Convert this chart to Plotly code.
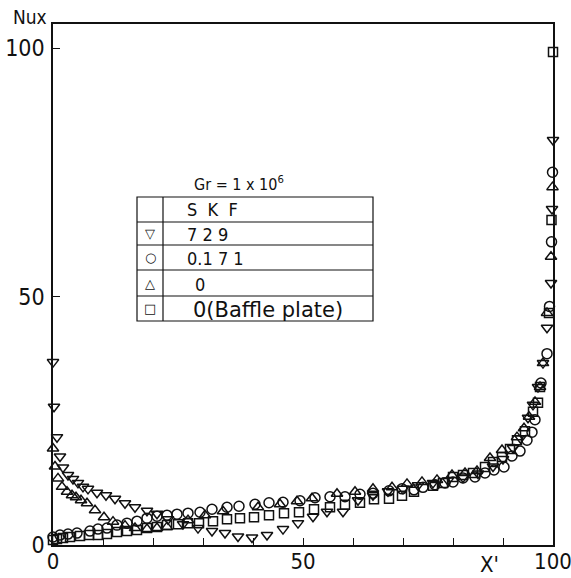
import plotly.graph_objects as go

# Local Nusselt number along the heated wall, Gr = 1e6
# S K F = 729
x_skf729 = [0.0, 0.2, 0.8, 1.4, 2.0, 3.0, 4.0, 5.0, 6.0, 7.0, 8.8, 10.6, 12.4, 14.4, 16.4,
            18.8, 20.8, 23.0, 26.0, 29.0, 31.8, 34.4, 37.0, 39.8, 42.8, 46.0, 49.0, 52.0,
            54.8, 58.0, 61.0, 64.0, 67.0, 70.0, 73.0, 76.0, 79.0, 82.0, 85.0, 88.0, 90.0,
            92.0, 93.5, 95.0, 96.0, 97.0, 98.0, 98.8, 99.6, 99.8, 100.0]
nu_skf729 = [36.8, 27.8, 21.7, 17.8, 15.6, 14.1, 13.3, 12.5, 11.7, 11.3, 10.5, 10.0, 9.3, 8.4, 7.6,
             6.9, 6.3, 5.2, 4.2, 3.4, 2.8, 2.4, 1.7, 1.5, 2.0, 3.2, 4.4, 5.7,
             6.7, 6.7, 9.0, 10.0, 10.8, 11.3, 12.0, 12.5, 13.0, 13.6, 14.4, 15.8, 17.3,
             19.5, 21.5, 25.6, 28.2, 31.8, 36.6, 43.7, 52.7, 67.6, 81.5]

# S K F = 0.171
x_skf0171 = [0.0, 1.4, 3.0, 4.8, 7.4, 9.0, 10.8, 12.8, 14.8, 16.8, 18.8, 20.8, 22.8, 24.8, 27.0,
             29.4, 31.8, 34.8, 37.2, 40.4, 43.2, 46.0, 49.4, 52.4, 55.4, 58.4, 61.4, 64.0,
             67.2, 69.8, 72.2, 74.0, 76.4, 78.4, 80.0, 82.0, 84.4, 86.4, 88.2, 90.2, 91.8,
             93.4, 94.8, 95.8, 96.4, 97.6, 98.8, 99.3, 99.7, 99.9]
nu_skf0171 = [1.6, 2.0, 2.2, 2.4, 2.8, 3.2, 3.4, 4.0, 4.4, 4.8, 5.4, 5.8, 6.0, 6.2, 6.4,
              6.6, 7.2, 7.6, 7.8, 8.2, 8.5, 8.6, 8.9, 9.5, 9.7, 9.7, 10.2, 10.4,
              10.9, 11.3, 11.1, 11.6, 12.1, 12.5, 12.7, 13.5, 13.7, 14.5, 15.1, 15.7, 17.9,
              18.9, 21.1, 22.7, 25.2, 32.6, 38.5, 48.0, 61.0, 75.0]

# S K F = 0
x_skf0 = [0.0, 0.4, 1.0, 1.8, 2.8, 3.8, 4.6, 5.6, 6.8, 8.4, 10.2, 12.0, 14.4, 16.4, 18.8,
          20.8, 22.8, 27.0, 30.4, 34.0, 41.0, 45.4, 48.8, 51.8, 56.8, 60.4, 64.0, 67.8,
          70.8, 73.8, 76.8, 79.8, 82.4, 84.8, 87.4, 89.8, 92.8, 94.2, 95.2, 96.4, 97.4,
          98.0, 98.8, 99.6, 99.9]
nu_skf0 = [19.4, 15.8, 13.4, 11.7, 10.7, 10.0, 9.6, 9.0, 8.4, 7.0, 5.6, 4.7, 3.9, 3.4, 3.2,
           3.4, 3.6, 5.0, 6.0, 6.8, 7.6, 8.2, 8.8, 9.4, 10.3, 10.7, 11.3, 11.6,
           12.3, 12.7, 13.1, 14.1, 14.5, 14.9, 17.5, 19.1, 21.7, 23.5, 25.8, 28.8, 31.8,
           36.6, 46.7, 58.0, 72.0]

# S K F = 0 with baffle plate
x_baffle = [0.0, 0.8, 2.0, 3.4, 5.4, 7.2, 9.0, 10.8, 12.8, 14.8, 16.8, 18.8, 20.8, 22.8, 25.0,
            27.0, 29.2, 32.0, 34.8, 37.4, 40.2, 43.2, 46.2, 49.2, 52.2, 55.4, 58.4, 61.4,
            64.2, 67.2, 69.8, 72.2, 76.0, 78.0, 80.0, 82.0, 84.0, 86.4, 88.0, 89.8, 91.4,
            92.8, 94.4, 96.0, 97.0, 97.4, 99.2, 99.7, 100.0]
nu_baffle = [1.0, 1.2, 1.4, 1.6, 1.8, 2.0, 2.0, 2.2, 2.6, 2.8, 3.0, 3.4, 3.6, 4.0, 4.2,
             4.4, 4.4, 4.8, 5.2, 5.4, 5.6, 6.0, 6.4, 6.6, 7.2, 7.6, 8.1, 8.5,
             9.2, 9.3, 9.9, 10.7, 11.9, 12.5, 13.7, 14.1, 14.5, 15.7, 16.7, 17.7, 19.3,
             21.1, 22.9, 26.8, 28.6, 31.8, 46.7, 65.4, 99.2]

x_ticks = [0, 10, 20, 30, 40, 50, 60, 70, 80, 90, 100]
x_tick_labels = ["0", "", "", "", "", "50", "", "", "", "", "100"]
y_ticks = [0, 50, 100]
y_tick_labels = ["0", "50", "100"]

legend_rows = [("\u25bd", "7 2 9"), ("\u25cb", "0.1 7 1"), ("\u25b3", "0"), ("\u25a1", "0(Baffle plate)")]

FONT = "Liberation Sans Narrow, DejaVu Sans Condensed, Arial, sans-serif"
WIDE = "DejaVu Sans, Arial, sans-serif"
INK = "#111111"

fig = go.Figure()
series = [
    (x_skf729, nu_skf729, "triangle-down-open", 10),
    (x_skf0171, nu_skf0171, "circle-open", 10),
    (x_skf0, nu_skf0, "triangle-up-open", 10),
    (x_baffle, nu_baffle, "square-open", 9),
]
for xs, ys, sym, sz in series:
    fig.add_trace(go.Scatter(
        x=xs, y=ys, mode="markers", cliponaxis=False, showlegend=False,
        marker=dict(symbol=sym, size=sz, color=INK, line=dict(width=1.5, color=INK)),
    ))

# helper: pixel position on the page -> data coordinates
def px_x(p):
    return (p - 53) / 5.0

def px_y(p):
    return (545 - p) / 4.97

# table used as the key
left, div, right = 137, 163, 373
rows = [197, 222, 245, 270, 296, 321]
line_style = dict(color=INK, width=1.2)
fig.add_shape(type="rect", x0=px_x(left), x1=px_x(right), y0=px_y(rows[0]), y1=px_y(rows[-1]),
              line=line_style, layer="above")
fig.add_shape(type="line", x0=px_x(div), x1=px_x(div), y0=px_y(rows[0]), y1=px_y(rows[-1]),
              line=line_style)
for r in rows[1:-1]:
    fig.add_shape(type="line", x0=px_x(left), x1=px_x(right), y0=px_y(r), y1=px_y(r), line=line_style)

fig.add_annotation(x=px_x(185), y=px_y(209), text="S  K  F", showarrow=False, xanchor="left",
                   yanchor="middle", font=dict(family=FONT, size=18, color=INK))
for i, (sym, label) in enumerate(legend_rows):
    yc = (rows[i + 1] + rows[i + 2]) / 2
    fig.add_annotation(x=px_x((left + div) / 2), y=px_y(yc), text=sym, showarrow=False,
                       yanchor="middle", font=dict(family="DejaVu Sans", size=13, color=INK))
    xl = 185 if i < 2 else (193 if i == 2 else 191)
    if i == 3:
        fnt = dict(family=WIDE, size=21, color=INK)
    else:
        fnt = dict(family=FONT, size=18, color=INK)
    fig.add_annotation(x=px_x(xl), y=px_y(yc + 1), text=label, showarrow=False, xanchor="left",
                       yanchor="middle", font=fnt)

fig.add_annotation(x=px_x(192), y=px_y(183), text="Gr = 1 x 10<sup>6</sup>", showarrow=False,
                   xanchor="left", yanchor="middle", font=dict(family=FONT, size=16, color=INK))
fig.add_annotation(xref="paper", yref="paper", x=(11 - 53) / 500, y=(545 - 17) / 521, text="Nux",
                   showarrow=False, xanchor="left", yanchor="middle",
                   font=dict(family=FONT, size=19, color=INK))
fig.add_annotation(xref="paper", yref="paper", x=(489 - 53) / 500, y=(545 - 564) / 521, text="X'",
                   showarrow=False, xanchor="center", yanchor="middle",
                   font=dict(family=FONT, size=22, color=INK))

fig.update_xaxes(range=[0, 100], tickvals=x_ticks, ticktext=x_tick_labels, ticks="inside",
                 ticklen=7, tickwidth=1.2, tickcolor=INK, showline=True, linecolor=INK,
                 linewidth=1.5, mirror=True, showgrid=False, zeroline=False, automargin=False,
                 ticklabeloverflow="allow", ticklabelstandoff=-4,
                 tickfont=dict(family=FONT, size=22, color=INK))
fig.update_yaxes(range=[0, (545 - 24) / 4.97], tickvals=y_ticks, ticktext=y_tick_labels,
                 ticks="inside", ticklen=7, tickwidth=1.2, tickcolor=INK, showline=True,
                 linecolor=INK, linewidth=1.5, mirror=True, showgrid=False, zeroline=False,
                 automargin=False, ticklabeloverflow="allow", ticklabelstandoff=2,
                 tickfont=dict(family=FONT, size=23, color=INK))
fig.update_layout(width=571, height=578, margin=dict(l=53, r=18, t=24, b=33),
                  paper_bgcolor="white", plot_bgcolor="white")
fig.write_html("out.html")
